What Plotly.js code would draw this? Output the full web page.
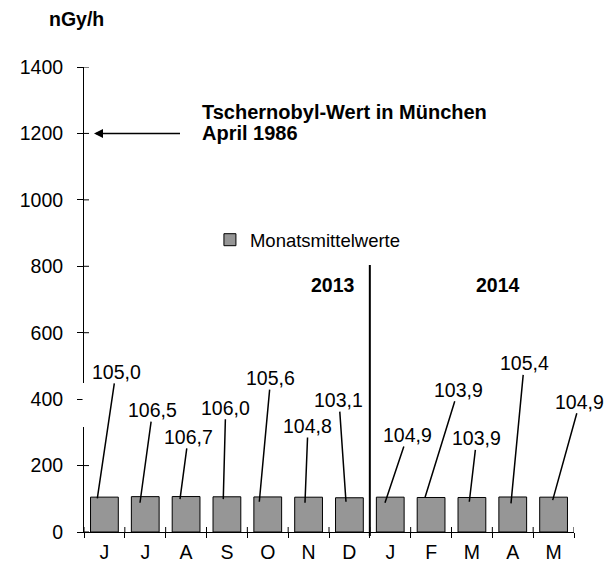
<!DOCTYPE html>
<html>
<head>
<meta charset="utf-8">
<script src="https://cdn.plot.ly/plotly-3.0.1.min.js"></script>
<style>html,body{margin:0;padding:0;background:#fff;}#chart{width:608px;height:564px;}</style>
</head>
<body>
<div id="chart"></div>
<script>
// ---- data ----
const months = ['J','J','A','S','O','N','D','J','F','M','A','M'];
const years = ['2013','2014'];
const values = [105.0,106.5,106.7,106.0,105.6,104.8,103.1,104.9,103.9,103.9,105.4,104.9];
const labels = ['105,0','106,5','106,7','106,0','105,6','104,8','103,1','104,9','103,9','103,9','105,4','104,9'];
const seriesName = 'Monatsmittelwerte';
const yTicks = [0,200,400,600,800,1000,1200,1400];
const chernobylValue = 1200;
const chernobylText = ['Tschernobyl-Wert in München','April 1986'];
const unit = 'nGy/h';

// ---- label placement (layout only) ----
const tipDx = [-0.174,-0.129,-0.149,-0.089,-0.207,-0.088,-0.084,-0.129,-0.149,-0.064,-0.043,-0.022];
const tipY  = [101,88,99,99,91,88,91,88,104,91,86,96];
const offX  = [18.7,12.7,8.3,2.4,11.4,3,-7,22.7,33.3,7.4,13.3,27.3];
const offY  = [-126.6,-92.7,-62.3,-91.3,-123.7,-76.7,-101.7,-67.7,-107.7,-63.4,-140,-98.3];

const FONT = 'Liberation Sans, Arial, sans-serif';
const FS = 19.5;
const PLOT_W = 608 - 84 - 34, PLOT_H = 564 - 67 - 32;
const IN_TICK = 5;
const xIdx = months.map((m,i)=>i);
const bounds = months.map((m,i)=>i-0.5).concat([months.length-0.5]);

const traces = [
  {type:'bar', x:xIdx, y:values, name:seriesName, width:0.68,
   marker:{color:'#969696', line:{color:'#000', width:1}}, hoverinfo:'skip'}
];

const annotations = [];
values.forEach((v,i)=>{
  annotations.push({x:i+tipDx[i], y:tipY[i], xref:'x', yref:'y', text:labels[i],
    showarrow:true, arrowhead:0, arrowwidth:1.5, arrowcolor:'#000', ax:offX[i], ay:offY[i],
    font:{family:FONT, size:FS, color:'#000'}, borderpad:0});
});
annotations.push({xref:'paper', yref:'paper', x:-0.0755, y:1.103, xanchor:'left', yanchor:'middle',
  text:'<b>'+unit+'</b>', showarrow:false, font:{family:FONT, size:FS, color:'#000'}});
annotations.push({xref:'x', yref:'y', x:2.341, y:1263.6, xanchor:'left', yanchor:'middle',
  text:'<b>'+chernobylText[0]+'</b>', showarrow:false, font:{family:FONT, size:20, color:'#000'}});
annotations.push({xref:'x', yref:'y', x:2.341, y:1200.4, xanchor:'left', yanchor:'middle',
  text:'<b>'+chernobylText[1]+'</b>', showarrow:false, font:{family:FONT, size:20, color:'#000'}});
annotations.push({xref:'x', yref:'y', x:-0.255, y:chernobylValue, text:' ', showarrow:true,
  arrowhead:2, arrowsize:1.2, arrowwidth:1.5, arrowcolor:'#000', ax:90, ay:0, standoff:0});
annotations.push({xref:'x', yref:'y', x:5.598, y:743, text:'<b>'+years[0]+'</b>', showarrow:false,
  font:{family:FONT, size:FS, color:'#000'}});
annotations.push({xref:'x', yref:'y', x:9.639, y:743, text:'<b>'+years[1]+'</b>', showarrow:false,
  font:{family:FONT, size:FS, color:'#000'}});

const shapes = [
  {type:'line', xref:'x', yref:'paper', x0:6.5, x1:6.5, y0:-0.0086, y1:0.574,
   line:{color:'#000', width:2}},
  {type:'rect', xref:'paper', yref:'paper', x0:-0.003, x1:0.0125, y0:0.2258, y1:0.3204,
   fillcolor:'#fff', line:{width:0}, layer:'above'}
];
// inner halves of the crossing tick marks
yTicks.forEach(t=>{
  if (t === 400) return; // hidden behind label box in the original
  shapes.push({type:'line', xref:'paper', yref:'y', x0:0, x1:IN_TICK/PLOT_W, y0:t, y1:t,
    line:{color:'#000', width:1}, layer:'above'});
});
bounds.forEach(b=>{
  shapes.push({type:'line', xref:'x', yref:'paper', x0:b, x1:b, y0:0, y1:IN_TICK/PLOT_H,
    line:{color:'#000', width:1}, layer:'above'});
});

const layout = {
  width:608, height:564,
  margin:{l:84, r:34, t:67, b:32},
  paper_bgcolor:'#fff', plot_bgcolor:'#fff',
  font:{family:FONT, size:FS, color:'#000'},
  showlegend:true,
  legend:{x:0.257, y:0.6276, xanchor:'left', yanchor:'middle', bgcolor:'rgba(0,0,0,0)',
    font:{family:FONT, size:18.5, color:'#000'}},
  xaxis:{range:[-0.5, months.length-0.5], tickmode:'array', tickvals:xIdx, ticktext:months,
    ticks:'', showline:true, linecolor:'#000', linewidth:1, showgrid:false, zeroline:false,
    ticklabelstandoff:3, automargin:false, fixedrange:true,
    minor:{tickmode:'array', tickvals:bounds, ticks:'outside', ticklen:5, tickcolor:'#000', tickwidth:1, showgrid:false}},
  yaxis:{range:[0,1400], tickmode:'array', tickvals:yTicks, ticks:'outside', ticklen:6,
    tickcolor:'#000', showline:true, linecolor:'#000', linewidth:1, showgrid:false, zeroline:false,
    ticklabelstandoff:10, automargin:false, fixedrange:true},
  annotations:annotations,
  shapes:shapes
};

Plotly.newPlot('chart', traces, layout, {displayModeBar:false, staticPlot:true});
</script>
</body>
</html>
